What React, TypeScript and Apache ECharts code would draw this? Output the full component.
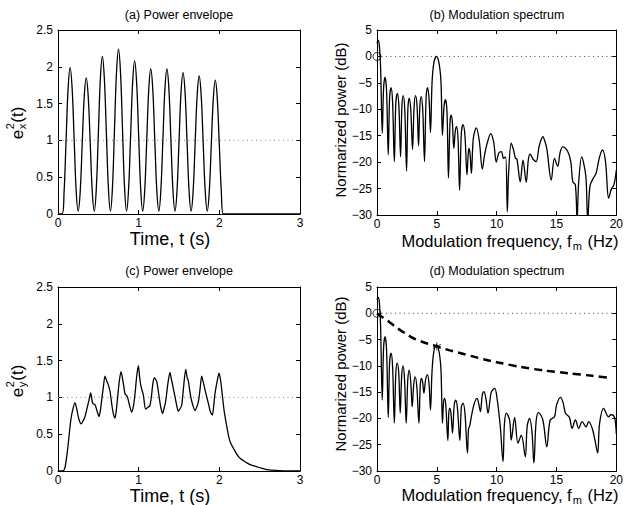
import React, { useEffect, useRef } from 'react';
import * as echarts from 'echarts';

const FONT = '"Liberation Sans", Arial, Helvetica, sans-serif';

// (a) power envelope e_x^2(t): [time s, power]
const envelopeX: [number, number][] = [
  [0, 0], [0.05, 0], [0.075, 0.29], [0.1, 1.0], [0.125, 1.7], [0.15, 1.99], [0.175, 1.71], [0.2, 1.02], [0.225, 0.32], [0.25, 0.04],
  [0.275, 0.3], [0.3, 0.95], [0.325, 1.59], [0.35, 1.85], [0.375, 1.59], [0.4, 0.95], [0.425, 0.3], [0.45, 0.04],
  [0.475, 0.35], [0.5, 1.09], [0.525, 1.83], [0.55, 2.14], [0.575, 1.83], [0.6, 1.09], [0.625, 0.35], [0.65, 0.04],
  [0.675, 0.36], [0.7, 1.14], [0.725, 1.92], [0.75, 2.24], [0.775, 1.92], [0.8, 1.14], [0.825, 0.36], [0.85, 0.04],
  [0.875, 0.34], [0.9, 1.06], [0.925, 1.78], [0.95, 2.08], [0.975, 1.78], [1.0, 1.06], [1.025, 0.34], [1.05, 0.04],
  [1.075, 0.32], [1.1, 1.0], [1.125, 1.69], [1.15, 1.97], [1.175, 1.69], [1.2, 1.0], [1.225, 0.32], [1.25, 0.04],
  [1.275, 0.32], [1.3, 1.0], [1.325, 1.69], [1.35, 1.97], [1.375, 1.69], [1.4, 1.0], [1.425, 0.32], [1.45, 0.04],
  [1.475, 0.31], [1.5, 0.98], [1.525, 1.65], [1.55, 1.92], [1.575, 1.65], [1.6, 0.98], [1.625, 0.31], [1.65, 0.04],
  [1.675, 0.31], [1.7, 0.96], [1.725, 1.61], [1.75, 1.875], [1.775, 1.61], [1.8, 0.96], [1.825, 0.31], [1.85, 0.04],
  [1.875, 0.3], [1.9, 0.93], [1.925, 1.56], [1.95, 1.82], [1.975, 1.56], [2.0, 0.93], [2.025, 0.3], [2.05, 0], [3, 0],
];

// (c) power envelope e_y^2(t)
const envelopeY: [number, number][] = [
  [0, 0], [0.06, 0], [0.087, 0.05], [0.107, 0.19], [0.125, 0.35], [0.145, 0.56], [0.16, 0.7], [0.18, 0.82], [0.21, 0.93],
  [0.235, 0.83], [0.255, 0.72], [0.285, 0.64], [0.31, 0.68], [0.335, 0.74], [0.364, 0.87], [0.385, 0.97], [0.405, 1.06],
  [0.43, 0.92], [0.459, 0.9], [0.48, 0.83], [0.508, 0.74], [0.525, 0.82], [0.541, 0.96], [0.56, 1.12], [0.583, 1.29],
  [0.605, 1.22], [0.624, 1.17], [0.645, 1.08], [0.67, 0.88], [0.69, 0.76], [0.707, 0.72], [0.722, 0.82], [0.74, 1.01],
  [0.76, 1.22], [0.781, 1.35], [0.81, 1.19], [0.831, 1.05], [0.86, 1.01], [0.885, 0.9], [0.913, 0.8], [0.935, 0.88],
  [0.955, 1.05], [0.975, 1.28], [0.996, 1.43], [1.01, 1.3], [1.025, 1.17], [1.058, 1.03], [1.087, 0.84], [1.12, 0.87],
  [1.14, 0.89], [1.16, 1.03], [1.175, 1.18], [1.194, 1.27], [1.223, 1.22], [1.256, 0.99], [1.275, 0.86], [1.297, 0.78],
  [1.315, 0.85], [1.334, 0.94], [1.36, 1.17], [1.388, 1.34], [1.405, 1.25], [1.421, 1.17], [1.45, 1.01], [1.47, 0.9],
  [1.492, 0.81], [1.51, 0.84], [1.533, 0.89], [1.555, 1.12], [1.583, 1.38], [1.6, 1.28], [1.616, 1.22], [1.645, 1.01],
  [1.67, 0.9], [1.699, 0.82], [1.72, 0.87], [1.74, 0.94], [1.76, 1.1], [1.781, 1.29], [1.8, 1.21], [1.823, 1.1],
  [1.845, 1.0], [1.864, 0.92], [1.89, 0.8], [1.913, 0.76], [1.93, 0.88], [1.946, 1.05], [1.97, 1.2], [1.996, 1.33],
  [2.015, 1.24], [2.03, 1.1], [2.058, 0.83], [2.08, 0.68], [2.1, 0.56], [2.12, 0.45], [2.14, 0.38], [2.173, 0.31],
  [2.19, 0.28], [2.21, 0.24], [2.235, 0.2], [2.26, 0.17], [2.3, 0.14], [2.34, 0.11], [2.4, 0.08], [2.46, 0.06],
  [2.52, 0.04], [2.587, 0.02], [2.65, 0.012], [2.75, 0.005], [2.85, 0.001], [3, 0],
];

// (b) modulation spectrum of x: [Hz, dB]
const spectrumX: [number, number][] = [
  [0, 2.5], [0.1, 3.1], [0.2, 2.0], [0.3, -2], [0.44, -14.5], [0.55, -6], [0.67, -3.9], [0.8, -6.5], [0.94, -18.6],
  [1.05, -8], [1.17, -5.9], [1.3, -8.5], [1.45, -19.9], [1.57, -9], [1.7, -7.0], [1.83, -9.5], [1.97, -19],
  [2.08, -9.5], [2.19, -7.4], [2.32, -10], [2.47, -21.7], [2.58, -10], [2.69, -7.9], [2.82, -10], [2.97, -17.6],
  [3.1, -9.5], [3.22, -7.4], [3.35, -9.5], [3.47, -16.9], [3.58, -9.5], [3.69, -7.6], [3.82, -10], [3.97, -19.9],
  [4.1, -8], [4.22, -5.9], [4.35, -8], [4.47, -14.4], [4.6, -5], [4.75, -1.2], [4.97, 0], [5.2, -1.5], [5.35, -5],
  [5.47, -14.9], [5.6, -9.5], [5.72, -8.2], [5.85, -10.5], [5.97, -23], [6.1, -12.5], [6.2, -11.1], [6.3, -12.5],
  [6.42, -17.4], [6.55, -14], [6.66, -13.3], [6.78, -16], [6.9, -25.3], [7.05, -14.5], [7.19, -12.9], [7.35, -15],
  [7.52, -22.4], [7.62, -18.5], [7.69, -17.4], [7.78, -18.5], [7.89, -22.1], [8.05, -15.5], [8.3, -13.5], [8.55, -16],
  [8.8, -21.3], [9.0, -18.5], [9.2, -16.5], [9.5, -14.6], [9.75, -16.2], [9.97, -20], [10.17, -18.3], [10.39, -18],
  [10.58, -19.3], [10.75, -19], [10.89, -29.4], [11.0, -22], [11.22, -16.4], [11.4, -17.6], [11.56, -19.2],
  [11.7, -19.5], [11.97, -23.7], [12.2, -19.6], [12.47, -23.8], [12.65, -19.5], [12.8, -18.5], [13.03, -19.4],
  [13.3, -19.9], [13.55, -17], [13.86, -15.2], [14.05, -16.2], [14.2, -17.6], [14.56, -23.4], [14.83, -19.3],
  [15.1, -20.8], [15.3, -18.2], [15.53, -17.1], [15.94, -18], [16.2, -20], [16.36, -23.7], [16.58, -24.3],
  [16.72, -31], [16.85, -24], [17.11, -19], [17.3, -20.5], [17.47, -23.1], [17.61, -31], [17.8, -24.5],
  [18.08, -23], [18.31, -22.1], [18.6, -19], [18.86, -17.7], [19.1, -20], [19.36, -26.8], [19.6, -25],
  [19.8, -24.3], [20, -21.5],
];

// (d) modulation spectrum of y: [Hz, dB]
const spectrumY: [number, number][] = [
  [0, 2.5], [0.1, 3.0], [0.2, 2.0], [0.3, -2.5], [0.44, -16.5], [0.55, -6.5], [0.67, -4.45], [0.8, -7], [0.94, -19.8],
  [1.05, -9.5], [1.17, -7.6], [1.3, -10], [1.45, -20.9], [1.57, -11.5], [1.69, -9.5], [1.82, -11.5], [1.94, -19],
  [2.06, -12], [2.17, -10], [2.3, -12.5], [2.44, -20.9], [2.57, -12.8], [2.69, -10.8], [2.82, -13], [2.94, -17.8],
  [3.07, -13.5], [3.19, -12.1], [3.33, -14], [3.5, -20.9], [3.62, -13.5], [3.72, -12.4], [3.82, -13.2], [3.92, -15.2],
  [4.07, -12.5], [4.22, -11.7], [4.35, -13.5], [4.47, -18.4], [4.6, -11], [4.75, -7.3], [4.97, -6.0], [5.2, -7.5],
  [5.35, -11], [5.47, -20.9], [5.56, -17], [5.64, -16.2], [5.75, -17.5], [5.92, -24.2], [6.0, -19], [6.08, -18.1],
  [6.18, -19], [6.31, -22.8], [6.45, -17.5], [6.58, -16.5], [6.72, -18], [6.92, -24.2], [7.05, -17.8], [7.19, -17.1],
  [7.35, -19], [7.56, -26.6], [7.65, -22], [7.75, -21.4], [8.05, -17.8], [8.36, -16.2], [8.5, -17.2], [8.64, -18.7],
  [8.8, -15.5], [8.94, -14.9], [9.1, -16.2], [9.28, -19], [9.55, -15], [9.83, -14.3], [10.05, -16.5], [10.3, -21.5],
  [10.53, -28.2], [10.65, -21], [10.81, -19], [11.08, -20.3], [11.22, -24.1], [11.5, -19.8], [11.78, -24.7],
  [12.06, -23.2], [12.39, -27.3], [12.55, -21.5], [12.75, -20], [12.95, -22.5], [13.11, -28.5], [13.3, -20.5],
  [13.5, -18.9], [13.86, -20.3], [14.19, -25.4], [14.47, -20.3], [14.83, -19.7], [15.0, -17.5], [15.33, -16],
  [15.55, -17], [15.75, -19], [16.08, -19.8], [16.3, -21.9], [16.58, -20.3], [16.86, -21.9], [17.14, -20.6],
  [17.47, -21.6], [17.69, -20.6], [18.0, -22], [18.2, -24], [18.44, -26.6], [18.6, -21], [18.94, -18.1],
  [19.36, -19.7], [19.55, -19.3], [19.75, -19.4], [19.9, -20.3], [20, -23],
];

// (d) dashed reference curve [Hz, dB]
const referenceD: [number, number][] = [
  [0, 0], [0.5, -0.8], [1, -1.6], [1.5, -2.5], [2, -3.3], [2.5, -4.0], [3, -4.7], [4, -5.6], [5, -6.3], [6, -7.0],
  [7, -7.6], [8, -8.2], [9, -8.8], [10, -9.3], [12, -10.2], [14, -10.9], [16, -11.4], [18, -11.9], [19.5, -12.3],
];

const unityLine: [number, number][] = [[0, 1], [3, 1]];
const zeroDbLine: [number, number][] = [[0, 0], [20, 0]];
const originMarker: [number, number][] = [[0, 0]];
const peakMarker: [number, number][] = [[5, -6.3]];

const titles = ['(a) Power envelope', '(b) Modulation spectrum', '(c) Power envelope', '(d) Modulation spectrum'];

const grids = [
  { left: 58, top: 30, width: 242, height: 184 },
  { left: 377, top: 30, width: 240, height: 185 },
  { left: 58, top: 287, width: 242, height: 184 },
  { left: 377, top: 287, width: 240, height: 184 },
];

function measure(t: string, size: number) {
  const c = document.createElement('canvas').getContext('2d')!;
  c.font = `${size}px "Liberation Sans", Arial, sans-serif`;
  return c.measureText(t).width;
}

const minusFmt = (v: number) => (v < 0 ? '\u2212' + Math.abs(v) : String(v));

function axisPair(kind: 'x' | 'y', gi: number, min: number, max: number, interval: number) {
  const base: any = {
    type: 'value',
    gridIndex: gi,
    min,
    max,
    interval,
    axisLine: { show: true, onZero: false, lineStyle: { color: '#000', width: 1 } },
    axisTick: { show: true, inside: true, length: 4, lineStyle: { color: '#000', width: 1 } },
    splitLine: { show: false },
  };
  const main = {
    ...base,
    position: kind === 'x' ? 'bottom' : 'left',
    axisLabel: {
      color: '#000',
      fontFamily: FONT,
      fontSize: 12,
      margin: kind === 'x' ? 3 : 5,
      formatter: minusFmt,
    },
  };
  const mirror = { ...base, position: kind === 'x' ? 'top' : 'right', axisLabel: { show: false } };
  return [main, mirror];
}

function yLabelGroup(cx: number, cy: number, sub: string) {
  const fs = 17;
  const ss = 11;
  const we = measure('e', fs);
  const w2 = Math.max(measure('2', ss), measure(sub, ss));
  const wt = measure('(t)', fs);
  const W = we + w2 + 1 + wt;
  const style = (text: string, size: number) => ({ text, fontSize: size, fontFamily: FONT, fill: '#000', align: 'left', verticalAlign: 'middle' });
  return {
    type: 'group',
    x: cx,
    y: cy + W / 2,
    rotation: Math.PI / 2,
    children: [
      { type: 'text', x: 0, y: 0, style: style('e', fs) },
      { type: 'text', x: we + 0.5, y: -7, style: style('2', ss) },
      { type: 'text', x: we + 0.5, y: 5, style: style(sub, ss) },
      { type: 'text', x: we + w2 + 1, y: 0, style: style('(t)', fs) },
    ],
  };
}

function freqLabel(cx: number, cy: number) {
  const fs = 16.5;
  const ss = 11;
  const t1 = 'Modulation frequency, f';
  const t3 = ' (Hz)';
  const w1 = measure(t1, fs);
  const ws = measure('m', ss);
  const w3 = measure(t3, fs);
  const W = w1 + ws + 2 + w3;
  const sx = cx - W / 2;
  const style = (text: string, size: number) => ({ text, fontSize: size, fontFamily: FONT, fill: '#000', align: 'left', verticalAlign: 'middle' });
  return [
    { type: 'text', x: sx, y: cy, style: style(t1, fs) },
    { type: 'text', x: sx + w1 + 1, y: cy + 5, style: style('m', ss) },
    { type: 'text', x: sx + w1 + ws + 2, y: cy, style: style(t3, fs) },
  ];
}

export default function App() {
  const ref = useRef<HTMLDivElement>(null);
  useEffect(() => {
    document.body.style.margin = '0';
    const chart = echarts.init(ref.current!, null, { renderer: 'svg' });

    const xAxis = [
      ...axisPair('x', 0, 0, 3, 1),
      ...axisPair('x', 1, 0, 20, 5),
      ...axisPair('x', 2, 0, 3, 1),
      ...axisPair('x', 3, 0, 20, 5),
    ];
    const yAxis = [
      ...axisPair('y', 0, 0, 2.5, 0.5),
      ...axisPair('y', 1, -30, 5, 5),
      ...axisPair('y', 2, 0, 2.5, 0.5),
      ...axisPair('y', 3, -30, 5, 5),
    ];

    const curve = (gi: number, data: [number, number][], smooth: number) => ({
      type: 'line',
      xAxisIndex: gi * 2,
      yAxisIndex: gi * 2,
      data,
      symbol: 'none',
      smooth,
      clip: true,
      lineStyle: { color: '#000', width: 1.3 },
      z: 3,
    });
    const dotted = (gi: number, data: [number, number][], color: string) => ({
      type: 'line',
      xAxisIndex: gi * 2,
      yAxisIndex: gi * 2,
      data,
      symbol: 'none',
      lineStyle: { color, width: 1, type: [1, 3.5] },
      z: 2,
    });
    const circle = (gi: number) => ({
      type: 'scatter',
      xAxisIndex: gi * 2,
      yAxisIndex: gi * 2,
      data: originMarker,
      symbol: 'circle',
      symbolSize: 8,
      clip: false,
      itemStyle: { color: 'rgba(0,0,0,0)', borderColor: '#000', borderWidth: 1 },
      z: 5,
    });

    const graphic: any[] = [];
    titles.forEach((t, i) => {
      const g = grids[i];
      graphic.push({
        type: 'text',
        x: g.left + g.width / 2,
        y: i < 2 ? 15 : 271,
        style: { text: t, fontSize: 12.5, fontFamily: FONT, fill: '#000', align: 'center', verticalAlign: 'middle' },
      });
    });
    graphic.push({
      type: 'text', x: 170, y: 239,
      style: { text: 'Time, t (s)', fontSize: 18, fontFamily: FONT, fill: '#000', align: 'center', verticalAlign: 'middle' },
    });
    graphic.push({
      type: 'text', x: 170, y: 496,
      style: { text: 'Time, t (s)', fontSize: 18, fontFamily: FONT, fill: '#000', align: 'center', verticalAlign: 'middle' },
    });
    graphic.push(...freqLabel(510, 241));
    graphic.push(...freqLabel(510, 494.5));
    graphic.push({
      type: 'text', x: 340, y: 120, rotation: Math.PI / 2,
      style: { text: 'Normarized power (dB)', fontSize: 15, fontFamily: FONT, fill: '#000', align: 'center', verticalAlign: 'middle' },
    });
    graphic.push({
      type: 'text', x: 340, y: 374, rotation: Math.PI / 2,
      style: { text: 'Normarized power (dB)', fontSize: 15, fontFamily: FONT, fill: '#000', align: 'center', verticalAlign: 'middle' },
    });
    graphic.push(yLabelGroup(17, 123, 'x'));
    graphic.push(yLabelGroup(17, 381, 'y'));

    const option: any = {
      animation: false,
      backgroundColor: '#fff',
      textStyle: { fontFamily: FONT },
      grid: grids.map((g) => ({ ...g, containLabel: false })),
      xAxis,
      yAxis,
      series: [
        dotted(0, unityLine, '#888'),
        curve(0, envelopeX, 0.4),
        dotted(1, zeroDbLine, '#444'),
        curve(1, spectrumX, 0.35),
        circle(1),
        dotted(2, unityLine, '#888'),
        curve(2, envelopeY, 0.25),
        dotted(3, zeroDbLine, '#444'),
        curve(3, spectrumY, 0.35),
        {
          type: 'line',
          xAxisIndex: 6,
          yAxisIndex: 6,
          data: referenceD,
          symbol: 'none',
          smooth: 0.3,
          lineStyle: { color: '#000', width: 2.5, type: [8, 5] },
          z: 4,
        },
        circle(3),
        {
          type: 'scatter',
          xAxisIndex: 6,
          yAxisIndex: 6,
          data: peakMarker,
          symbol: 'path://M0,-5L0,5M-4.3,-2.5L4.3,2.5M-4.3,2.5L4.3,-2.5',
          symbolSize: 8,
          clip: false,
          itemStyle: { color: 'rgba(0,0,0,0)', borderColor: '#000', borderWidth: 1 },
          z: 6,
        },
      ],
      graphic,
    };
    chart.setOption(option);
    return () => chart.dispose();
  }, []);
  return <div ref={ref} style={{ width: 626, height: 505 }} />;
}
